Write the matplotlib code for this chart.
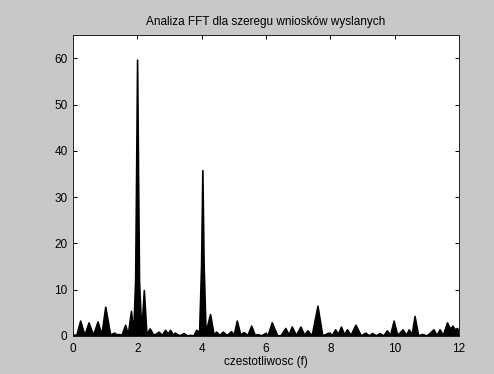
import matplotlib
matplotlib.use("Agg")
from matplotlib import pyplot as plt

# widmo FFT: czestotliwosc i amplituda
freq = [
  0.0, 0.1, 0.22, 0.35, 0.48, 0.62, 0.76, 0.88, 1.0, 1.15,
  1.28, 1.35, 1.42, 1.5, 1.62, 1.7, 1.8, 1.87, 1.93, 1.96,
  1.99, 2.02, 2.05, 2.12, 2.2, 2.28, 2.38, 2.5, 2.66, 2.76,
  2.86, 2.94, 3.02, 3.1, 3.17, 3.3, 3.43, 3.55, 3.64, 3.74,
  3.83, 3.92, 3.98, 4.02, 4.06, 4.12, 4.26, 4.37, 4.45, 4.55,
  4.65, 4.78, 4.91, 5.0, 5.09, 5.2, 5.3, 5.42, 5.54, 5.65,
  5.74, 5.85, 5.97, 6.05, 6.18, 6.35, 6.45, 6.6, 6.7, 6.8,
  6.93, 7.07, 7.18, 7.29, 7.42, 7.6, 7.75, 7.95, 8.05, 8.15,
  8.24, 8.33, 8.43, 8.52, 8.63, 8.78, 8.95, 9.09, 9.2, 9.3,
  9.42, 9.53, 9.65, 9.76, 9.86, 9.97, 10.08, 10.25, 10.35, 10.44,
  10.53, 10.62, 10.73, 10.85, 11.0, 11.21, 11.3, 11.4, 11.5, 11.63,
  11.72, 11.8, 11.87, 11.94, 12.0]
amp = [
  0.3, 0.2, 3.3, 0.2, 2.9, 0.2, 3.1, 0.3, 6.3, 0.3,
  0.7, 0.3, 0.4, 0.2, 2.4, 0.3, 5.4, 0.8, 12, 35,
  59.7, 35, 12, 0.8, 9.9, 0.4, 1.6, 0.2, 0.9, 0.2,
  1.3, 0.5, 1.3, 0.3, 0.7, 0.1, 0.6, 0.1, 0.2, 0.1,
  1.3, 0.8, 15, 35.8, 15, 0.8, 4.7, 0.3, 0.9, 0.2,
  0.9, 0.2, 1.0, 0.3, 3.3, 0.3, 0.8, 0.2, 2.2, 0.2,
  0.4, 0.1, 0.6, 0.2, 2.9, 0.1, 0.1, 1.7, 0.3, 2.0,
  0.2, 2.0, 0.3, 1.2, 0.1, 6.5, 0.1, 0.7, 0.2, 1.4,
  0.4, 2.0, 0.3, 1.4, 0.2, 2.4, 0.1, 0.7, 0.1, 0.6,
  0.1, 0.6, 0.1, 1.2, 0.2, 3.3, 0.2, 1.4, 0.2, 1.4,
  0.3, 4.3, 0.1, 0.4, 0.1, 1.4, 0.2, 1.4, 0.2, 2.9,
  1.6, 2.2, 1.4, 1.7, 0.8]

xticks = [0, 2, 4, 6, 8, 10, 12]
yticks = [0, 10, 20, 30, 40, 50, 60]

plt.rcParams['font.family'] = ['Liberation Sans', 'DejaVu Sans']
plt.rcParams['font.size'] = 8.5

fig = plt.figure(figsize=(4.94, 3.74), dpi=100, facecolor='#c8c8c8')
ax = fig.add_axes([0.148, 0.102, 0.781, 0.804])
ax.fill_between(freq, amp, 0, color='black', linewidth=1.2, edgecolor='black')
ax.set_xlim(0, 12)
ax.set_ylim(0, 65)
ax.set_xticks(xticks)
ax.set_yticks(yticks)
ax.tick_params(direction='in', top=True, right=True, length=3, width=0.7, pad=4)
ax.tick_params(axis='x', pad=5)
for s in ax.spines.values():
  s.set_linewidth(0.7)
  s.set_color('#202020')
ax.set_xlabel('czestotliwosc (f)', labelpad=1)
ax.set_title('Analiza FFT dla szeregu wniosków wyslanych', fontsize=8.5, pad=7)

fig.savefig('out.png', dpi=100, facecolor=fig.get_facecolor())
